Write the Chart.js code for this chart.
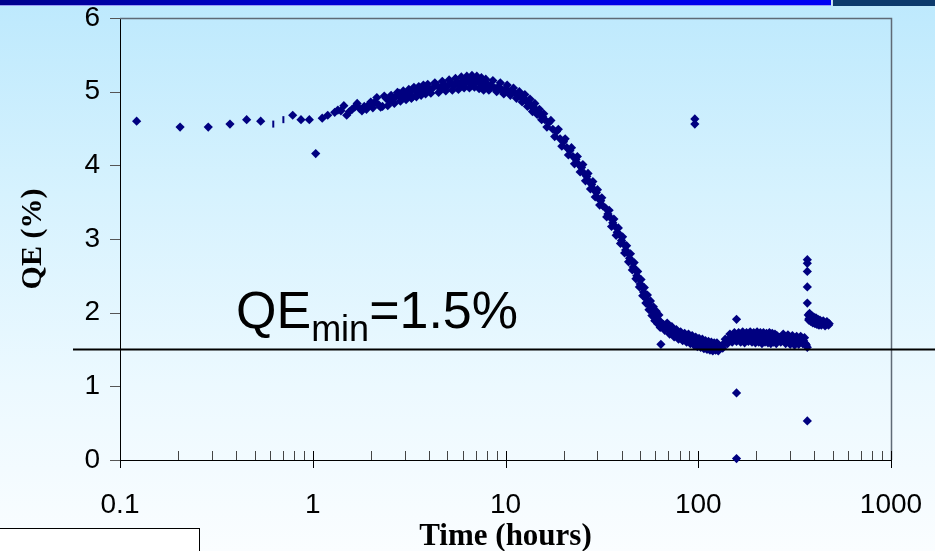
<!DOCTYPE html>
<html>
<head>
<meta charset="utf-8">
<title>QE vs time</title>
<script src="https://cdn.jsdelivr.net/npm/chart.js@4.4.1/dist/chart.umd.min.js"></script>
<style>
  html, body { margin: 0; padding: 0; }
  body {
    width: 935px; height: 551px; overflow: hidden; position: relative;
    background: linear-gradient(to bottom, #bde9fd 0%, #d6f2fe 35%, #ecf9ff 70%, #fafdff 100%);
  }
  #topBar {
    position: absolute; left: 0; top: 0; width: 831px; height: 5px;
    background: linear-gradient(to right, #00008c, #0000d0 35%, #0000f4);
    border-bottom: 1px solid #9c9cf2;
  }
  #cornerBlock {
    position: absolute; left: 832px; top: 0; width: 103px; height: 6px;
    background: #0c3a6c; border-left: 1px solid #c8d8ee;
  }
  #noteBox {
    position: absolute; left: -1px; top: 528px; width: 199px; height: 30px;
    background: #fff; border: 1px solid #000; z-index: 2;
  }
  #qeChart { position: absolute; left: 0; top: 0; }
</style>
</head>
<body>
<div id="topBar"></div>
<div id="cornerBlock"></div>
<canvas id="qeChart" width="935" height="551"></canvas>
<div id="noteBox"></div>

<script>
// measurement times (hours) and quantum efficiency (%)
const hours = [
  0.122, 0.205, 0.287, 0.372, 0.454, 0.537, 0.787, 0.869, 0.96, 1.036, 1.12, 1.196,
  1.30, 1.35, 1.40, 1.45, 1.50, 1.55, 1.60, 1.65, 1.70, 1.75, 1.80, 1.85, 1.90, 1.95, 2.00,
  2.1, 2.2, 2.3, 2.4, 2.5, 2.6, 2.7, 2.8, 2.9, 3.0, 3.1, 3.2, 3.3, 3.4, 3.5, 3.6, 3.7, 3.8, 3.9, 4.0,
  4.2, 4.4, 4.6, 4.8, 5.0, 5.2, 5.4, 5.6, 5.8, 6.0, 6.2, 6.4, 6.6, 6.8, 7.0, 7.2, 7.4, 7.6, 7.8, 8.0,
  8.4, 8.8, 9.2, 9.6, 10.0, 10.4, 10.8, 11.2, 11.6, 12.0, 12.4, 12.8, 13.2, 13.6, 14.0, 14.4, 14.8, 15.2, 15.6, 16.0,
  16.8, 17.6, 18.4, 19.2, 20.0, 20.8, 21.6, 22.4, 23.2, 24.0, 24.8, 25.6, 26.4, 27.2, 28.0, 28.8, 29.6, 30.4, 31.2, 32.0,
  33, 34, 35, 36, 37, 38, 39, 40, 41, 42, 43, 44, 45, 46, 47, 48,
  49, 50, 51, 52, 53, 54, 55, 56, 57, 58, 59, 60, 61, 62, 63, 64,
  66, 68, 70, 72, 74, 76, 78, 80, 82, 84, 86, 88, 90, 92, 94, 96,
  98, 100, 102, 104, 106, 108, 110, 112, 114, 116, 118, 120, 122, 124, 126, 128,
  132, 136, 140, 144, 148, 152, 156, 160, 164, 168, 172, 176, 180, 184, 188, 192,
  196, 200, 204, 208, 212, 216, 220, 224, 228, 232, 236, 240, 244, 248, 252, 256,
  264, 272, 280, 288, 296, 304, 312, 320, 328, 336, 344, 352, 360, 368,
  372, 376, 380, 385, 390, 395, 400, 405, 410, 415, 420, 425, 430, 440, 450, 460, 470, 478,
  368, 368, 368, 368, 368, 368, 64, 96, 96, 158, 158, 158,
  // interleaved readings
  2.05, 2.15, 2.25, 2.35, 2.45, 2.55, 2.65, 2.75, 2.85, 2.95, 3.05, 3.15, 3.25, 3.35, 3.45, 3.55, 3.65, 3.75, 3.85, 3.95,
  4.1, 4.3, 4.5, 4.7, 4.9, 5.1, 5.3, 5.5, 5.7, 5.9, 6.1, 6.3, 6.5, 6.7, 6.9, 7.1, 7.3, 7.5, 7.7, 7.9,
  8.2, 8.6, 9.0, 9.4, 9.8, 10.2, 10.6, 11.0, 11.4, 11.8, 12.2, 12.6, 13.0, 13.4, 13.8, 14.2, 14.6, 15.0, 15.4, 15.8,
  16.4, 17.2, 18.0, 18.8, 19.6, 20.4, 21.2, 22.0, 22.8, 23.6, 24.4, 25.2, 26.0, 26.8, 27.6, 28.4, 29.2, 30.0, 30.8, 31.6,
  33.5, 34.5, 35.5, 36.5, 37.5, 38.5, 39.5, 40.5, 41.5, 42.5, 43.5, 44.5, 45.5, 46.5, 47.5, 48.5,
  49.5, 50.5, 51.5, 52.5, 53.5, 54.5, 55.5, 56.5, 57.5, 58.5, 59.5, 60.5, 61.5, 62.5, 63.5,
  67, 69, 71, 73, 75, 77, 79, 81, 83, 85, 87, 89, 91, 93, 95, 97,
  99, 101, 103, 105, 107, 109, 111, 113, 115, 117, 119, 121, 123, 125, 127,
  134, 138, 142, 146, 150, 154, 158, 162, 166, 170, 174, 178, 182, 186, 190, 194,
  198, 202, 206, 210, 214, 218, 222, 226, 230, 234, 238, 242, 246, 250, 254,
  268, 276, 284, 292, 300, 308, 316, 324, 332, 340, 348, 356, 364,
  374, 378, 383, 388, 393, 398, 403, 408, 413, 418, 423, 428, 435, 445, 455, 465, 474
];
const qe = [
  4.60, 4.52, 4.52, 4.56, 4.62, 4.60, 4.68, 4.62, 4.62, 4.16, 4.64, 4.68,
  4.72, 4.75, 4.74, 4.81, 4.68, 4.73, 4.76, 4.79, 4.84, 4.77, 4.74, 4.80, 4.76, 4.82, 4.86,
  4.86, 4.82, 4.80, 4.91, 4.87, 4.90, 4.93, 4.98, 4.91, 4.95, 4.97, 5.00, 4.93, 5.02, 4.98, 5.01, 4.99, 5.04, 5.07, 5.03,
  5.05, 5.09, 5.04, 5.10, 5.07, 5.12, 5.08, 5.13, 5.09, 5.15, 5.11, 5.17, 5.12, 5.18, 5.13, 5.16, 5.10, 5.14, 5.07, 5.11,
  5.08, 5.05, 5.07, 5.02, 5.04, 5.00, 5.01, 4.98, 4.97, 4.93, 4.91, 4.87, 4.85, 4.80, 4.79, 4.74, 4.72, 4.68, 4.66, 4.62,
  4.58, 4.49, 4.46, 4.36, 4.32, 4.24, 4.20, 4.12, 4.08, 4.01, 3.97, 3.89, 3.85, 3.78, 3.74, 3.67, 3.63, 3.55, 3.52, 3.45,
  3.42, 3.34, 3.29, 3.22, 3.17, 3.09, 3.06, 2.98, 2.93, 2.85, 2.81, 2.74, 2.70, 2.62, 2.58, 2.50,
  2.47, 2.39, 2.35, 2.28, 2.25, 2.18, 2.15, 2.09, 2.07, 2.01, 2.00, 1.95, 1.94, 1.90, 1.89, 1.85,
  1.84, 1.80, 1.79, 1.75, 1.75, 1.71, 1.71, 1.68, 1.69, 1.66, 1.67, 1.65, 1.65, 1.63, 1.63, 1.61,
  1.62, 1.59, 1.60, 1.58, 1.59, 1.56, 1.57, 1.54, 1.56, 1.53, 1.55, 1.52, 1.55, 1.53, 1.54, 1.52,
  1.55, 1.58, 1.60, 1.64, 1.62, 1.67, 1.64, 1.69, 1.65, 1.70, 1.66, 1.69, 1.63, 1.70, 1.66, 1.71,
  1.64, 1.69, 1.65, 1.71, 1.62, 1.68, 1.66, 1.70, 1.63, 1.69, 1.65, 1.70, 1.64, 1.68, 1.63, 1.69,
  1.66, 1.63, 1.68, 1.62, 1.66, 1.60, 1.65, 1.58, 1.64, 1.61, 1.65, 1.62, 1.58, 1.53,
  1.97, 1.92, 1.95, 1.90, 1.93, 1.89, 1.91, 1.87, 1.90, 1.86, 1.89, 1.85, 1.88, 1.85, 1.87, 1.84, 1.86, 1.85,
  2.72, 2.67, 2.56, 2.35, 2.13, 0.53, 1.57, 4.63, 4.56, 1.91, 0.91, 0.02,
  // interleaved readings
  4.78, 4.92, 4.79, 4.94, 4.81, 4.95, 4.84, 4.99, 4.87, 5.01, 4.89, 5.03, 4.91, 5.06, 4.93, 5.07, 4.95, 5.09, 4.97, 5.10,
  4.98, 5.12, 4.99, 5.14, 5.01, 5.16, 5.02, 5.18, 5.03, 5.20, 5.05, 5.21, 5.05, 5.22, 5.06, 5.21, 5.04, 5.19, 5.02, 5.17,
  5.02, 5.15, 5.00, 5.12, 4.97, 5.09, 4.95, 5.05, 4.91, 5.00, 4.86, 4.96, 4.80, 4.90, 4.73, 4.84, 4.69, 4.76, 4.62, 4.70,
  4.52, 4.61, 4.39, 4.49, 4.26, 4.36, 4.14, 4.24, 4.02, 4.12, 3.91, 4.01, 3.79, 3.89, 3.68, 3.78, 3.57, 3.67, 3.46, 3.56,
  3.30, 3.39, 3.17, 3.27, 3.05, 3.15, 2.94, 3.03, 2.81, 2.91, 2.69, 2.80, 2.58, 2.68, 2.46, 2.56,
  2.35, 2.45, 2.23, 2.34, 2.13, 2.24, 2.04, 2.16, 1.96, 2.08, 1.89, 2.02, 1.85, 1.97, 1.80,
  1.76, 1.86, 1.71, 1.81, 1.67, 1.77, 1.64, 1.74, 1.62, 1.72, 1.60, 1.71, 1.58, 1.69, 1.56, 1.67,
  1.54, 1.65, 1.53, 1.64, 1.51, 1.62, 1.50, 1.61, 1.49, 1.60, 1.48, 1.59, 1.49, 1.59, 1.48,
  1.52, 1.64, 1.58, 1.71, 1.60, 1.73, 1.61, 1.73, 1.60, 1.74, 1.59, 1.73, 1.61, 1.74, 1.60, 1.73,
  1.59, 1.74, 1.60, 1.73, 1.58, 1.73, 1.60, 1.72, 1.59, 1.73, 1.58, 1.72, 1.60, 1.71, 1.58,
  1.60, 1.71, 1.58, 1.70, 1.57, 1.69, 1.56, 1.68, 1.57, 1.68, 1.58, 1.66, 1.56,
  1.90, 1.99, 1.88, 1.96, 1.86, 1.94, 1.85, 1.93, 1.84, 1.91, 1.83, 1.90, 1.83, 1.89, 1.82, 1.88, 1.83
];
// two readings that show up as short dashes instead of diamonds
const dashHours = [0.624, 0.704];
const dashQE = [4.56, 4.62];

const qeMin = 1.5;                       // acceptance threshold (%)
const decades = [0.1, 1, 10, 100, 1000]; // labelled x ticks
const yTicks = [0, 1, 2, 3, 4, 5, 6];

const sansFont = '"Liberation Sans", Arial, sans-serif';
const serifFont = '"Liberation Serif", "Times New Roman", serif';
Chart.defaults.font.family = sansFont;
Chart.defaults.color = '#000';

const crisp = v => Math.round(v) + 0.5;

// tick marks, frame, threshold line and its caption
const qeDecor = {
  id: 'qeDecor',
  beforeDatasetsDraw(chart) {
    const {ctx, chartArea: a, scales: {x, y}} = chart;
    ctx.save();
    ctx.lineWidth = 1.5;
    ctx.strokeStyle = '#5f6a76';
    ctx.beginPath();
    ctx.moveTo(a.left, crisp(a.top));
    ctx.lineTo(crisp(a.right), crisp(a.top));
    ctx.lineTo(crisp(a.right), a.bottom);
    ctx.stroke();

    ctx.lineWidth = 1;
    ctx.strokeStyle = '#555';
    yTicks.forEach(v => {
      const py = crisp(y.getPixelForValue(v));
      ctx.beginPath(); ctx.moveTo(a.left - 10, py); ctx.lineTo(a.left, py); ctx.stroke();
    });

    decades.forEach((d, i) => {
      const px = crisp(x.getPixelForValue(d));
      ctx.strokeStyle = '#000';
      ctx.beginPath(); ctx.moveTo(px, a.bottom - 9); ctx.lineTo(px, a.bottom + 8); ctx.stroke();
      if (i === decades.length - 1) return;
      ctx.strokeStyle = '#444';
      for (let k = 2; k <= 9; k++) {
        const mx = crisp(x.getPixelForValue(d * k));
        ctx.beginPath(); ctx.moveTo(mx, a.bottom - 9); ctx.lineTo(mx, a.bottom); ctx.stroke();
      }
    });
    ctx.restore();
  },
  afterDatasetsDraw(chart) {
    const {ctx, scales: {y}} = chart;
    const ly = y.getPixelForValue(qeMin);
    ctx.save();
    ctx.strokeStyle = '#000';
    ctx.lineWidth = 2;
    ctx.beginPath(); ctx.moveTo(73, ly); ctx.lineTo(chart.width, ly); ctx.stroke();

    ctx.fillStyle = '#000';
    ctx.textBaseline = 'alphabetic';
    let tx = 236;
    const base = ly - 22;
    ctx.font = '52px ' + sansFont;
    ctx.fillText('QE', tx, base);
    tx += ctx.measureText('QE').width;
    ctx.font = '36px ' + sansFont;
    ctx.fillText('min', tx, base + 13);
    tx += ctx.measureText('min').width;
    ctx.font = '52px ' + sansFont;
    ctx.fillText('=' + qeMin + '%', tx, base);
    ctx.restore();
  }
};

const ctx = document.getElementById('qeChart').getContext('2d');
new Chart(ctx, {
  type: 'scatter',
  data: {
    datasets: [{
      label: 'QE',
      data: hours.map((h, i) => ({x: h, y: qe[i]})),
      pointStyle: 'rectRot',
      pointRadius: 4.6,
      pointBackgroundColor: '#000080',
      pointBorderWidth: 0,
      clip: false
    }, {
      label: 'QE (dash)',
      data: dashHours.map((h, i) => ({x: h, y: dashQE[i]})),
      pointStyle: 'line',
      rotation: 90,
      pointRadius: 3.5,
      pointBorderColor: '#000080',
      pointBorderWidth: 2,
      clip: false
    }]
  },
  options: {
    responsive: false,
    animation: false,
    layout: {padding: {top: 18, right: 44, left: 0, bottom: 0}},
    plugins: {legend: {display: false}, tooltip: {enabled: false}},
    scales: {
      x: {
        type: 'logarithmic',
        min: 0.1,
        max: 1000,
        afterBuildTicks: s => { s.ticks = decades.map(v => ({value: v})); },
        afterFit: s => { s.height = 91; },
        // grid hidden; tickLength only spaces the labels from the axis
        grid: {display: false, drawTicks: true, tickLength: 31},
        border: {display: true, color: '#000', width: 1},
        ticks: {
          autoSkip: false, maxRotation: 0, padding: 0,
          font: {size: 28, lineHeight: 1},
          callback: v => String(v)
        },
        title: {
          display: true, text: 'Time (hours)',
          font: {family: serifFont, size: 31, weight: 'bold', lineHeight: 1},
          padding: {top: 0, bottom: -1}
        }
      },
      y: {
        min: 0,
        max: 6,
        afterFit: s => { s.width = 120; },
        grid: {display: false, drawTicks: true, tickLength: 20},
        border: {display: true, color: '#000', width: 1},
        ticks: {stepSize: 1, padding: 0, font: {size: 28, lineHeight: 1}},
        title: {
          display: true, text: 'QE (%)',
          font: {family: serifFont, size: 30, weight: 'bold', lineHeight: 1},
          padding: {top: 18, bottom: 0}
        }
      }
    }
  },
  plugins: [qeDecor]
});
</script>
</body>
</html>
